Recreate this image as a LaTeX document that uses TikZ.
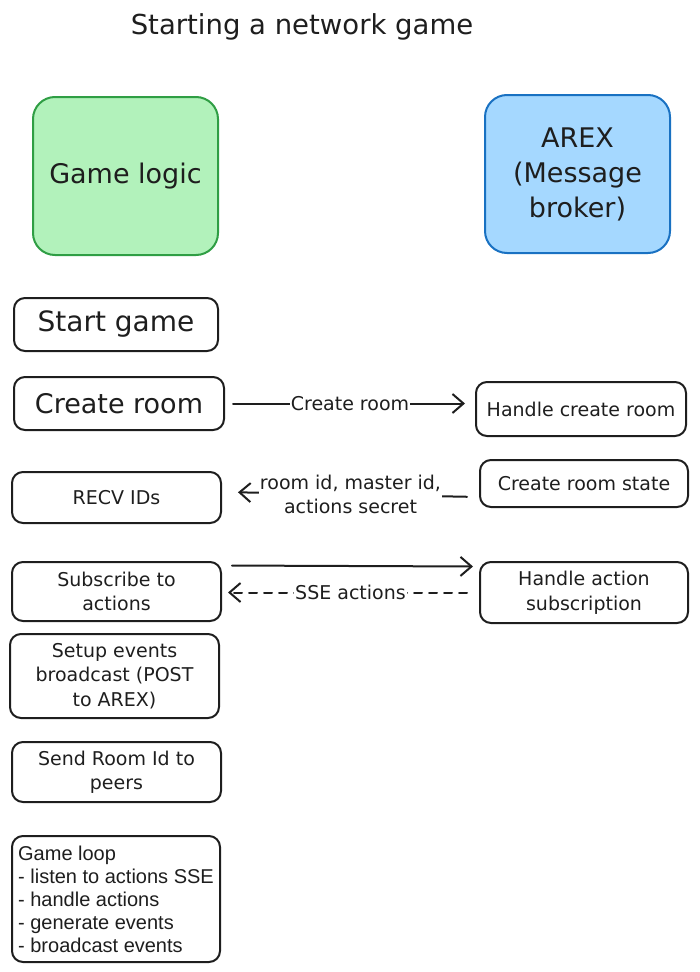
\documentclass[tikz,border=0pt]{standalone}
\usepackage{fontspec}
\setmainfont{DejaVu Sans}
\newfontfamily\plainsans{Liberation Sans}
\usetikzlibrary{arrows.meta}
\definecolor{ink}{HTML}{1E1E1E}
\definecolor{logicfill}{HTML}{B2F2BB}
\definecolor{logicdraw}{HTML}{2F9E44}
\definecolor{arexfill}{HTML}{A5D8FF}
\definecolor{arexdraw}{HTML}{1971C2}
\newcommand\bigtxt{\fontsize{27}{35}\selectfont}
\newcommand\smalltxt{\fontsize{19}{24.5}\selectfont}
\begin{document}
\begin{tikzpicture}[x=1pt, y=-1pt, line width=2pt, line join=round, line cap=round, text=ink,
  box/.style={draw=ink, rounded corners=11pt, inner sep=2pt, align=center, font=\smalltxt},
  bigbox/.style={box, rounded corners=22pt, minimum width=185pt, minimum height=158pt, font=\bigtxt},
  msg/.style={draw=ink, -{Straight Barb[length=11pt, width=19pt]}},
  msglabel/.style={fill=white, inner sep=1pt, align=center, font=\smalltxt}]
\useasboundingbox (0,0) rectangle (699,972);
\node[font=\fontsize{27.5}{30}\selectfont] (title) at (302,27) {Starting a network game};
\node[bigbox, fill=logicfill, draw=logicdraw] (logic) at (125.5,176) {Game logic};
\node[bigbox, fill=arexfill, draw=arexdraw] (arex) at (577.5,174) {AREX\\(Message\\broker)};
\node[box, minimum width=204pt, minimum height=53pt, font=\fontsize{28}{32}\selectfont] (start) at (116,324.5) {Start game};
\node[box, minimum width=210pt, minimum height=53pt, font=\bigtxt] (create) at (119,403.5) {Create room};
\node[box, minimum width=210pt, minimum height=54pt] (handle) at (581,409) {Handle create room};
\node[box, minimum width=209pt, minimum height=51pt] (recv) at (116.5,497.5) {RECV IDs};
\node[box, minimum width=208pt, minimum height=47pt] (state) at (584,483.5) {Create room state};
\node[box, minimum width=209pt, minimum height=59pt] (subscribe) at (116.5,591.5) {Subscribe to\\actions};
\node[box, minimum width=208pt, minimum height=61pt] (handlesub) at (584,592.5) {Handle action\\subscription};
\node[box, minimum width=209pt, minimum height=84pt] (setup) at (114.5,676) {Setup events\\broadcast (POST\\to AREX)};
\node[box, minimum width=209pt, minimum height=60pt] (send) at (116.5,772) {Send Room Id to\\peers};
\node[box, minimum width=208pt, minimum height=126pt, align=left, font=\plainsans\fontsize{20}{23}\selectfont] (loop) at (116,899)
  {Game loop\\- listen to actions SSE\\- handle actions\\- generate events\\- broadcast events};
\draw[msg, shorten <=8pt, shorten >=10pt] (create.east) -- (create.east -| handle.west)
  node[msglabel, midway] {Create room};
\draw[msg, shorten <=12pt, shorten >=16pt] ([yshift=-13.5pt]state.west) -- ([yshift=5.5pt]recv.east)
  node[msglabel, midway] {room id, master id,\\actions secret};
\draw[msg, shorten <=10pt, shorten >=6pt] ([yshift=26pt]subscribe.east) -- ([yshift=26pt]handlesub.west);
\draw[msg, dash pattern=on 8pt off 7pt, shorten <=12pt, shorten >=6pt] (handlesub.west) -- (handlesub.west -| subscribe.east)
  node[msglabel, midway] {SSE actions};
\end{tikzpicture}
\end{document}
